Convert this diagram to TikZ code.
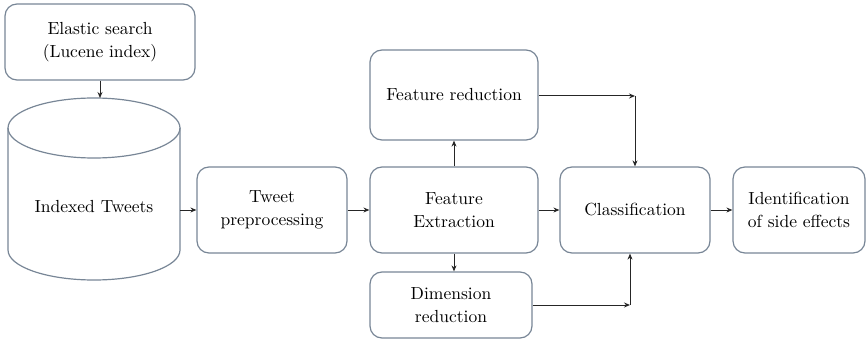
\documentclass[tikz,border=0pt]{standalone}
\usepackage{fontspec}
\setmainfont{lmroman10-regular.otf}
\usetikzlibrary{arrows.meta}
\definecolor{boxline}{RGB}{120,134,150}
\begin{document}
\begin{tikzpicture}[x=1pt,y=-1pt,
  box/.style={draw=boxline, line width=1.2pt, rounded corners=12pt, align=center,
    font=\fontsize{17.5}{23}\selectfont, inner sep=0pt, text=black},
  flow/.style={line width=1pt, draw=black!85, -{Stealth[length=6pt,width=5pt]}}]
\useasboundingbox (0,0) rectangle (867,342);

% source box
\node[box, minimum width=190pt, minimum height=76pt] (elastic) at (100,42)
  {Elastic search\\(Lucene index)};

% database cylinder
\draw[boxline, line width=1.2pt]
  (8,128) arc[start angle=180, end angle=360, x radius=86, y radius=30]
  arc[start angle=0, end angle=180, x radius=86, y radius=30] -- cycle;
\draw[boxline, line width=1.2pt]
  (8,128) -- (8,250) arc[start angle=180, end angle=360, x radius=86, y radius=-30]
  -- (180,128);
\coordinate (cyltop) at (100,98);
\node[font=\fontsize{17.5}{23}\selectfont, text=black, minimum width=172pt,
  minimum height=60pt, inner sep=0pt] (idx) at (94,207) {Indexed Tweets};

% processing chain
\node[box, minimum width=150pt, minimum height=86pt] (tweet) at (272,210)
  {Tweet\\preprocessing};
\node[box, minimum width=168pt, minimum height=86pt] (fe) at (454,210)
  {Feature\\Extraction};
\node[box, minimum width=168pt, minimum height=90pt] (fr) at (454,95)
  {Feature reduction};
\node[box, minimum width=162pt, minimum height=66pt] (dr) at (451,305)
  {Dimension\\reduction};
\node[box, minimum width=150pt, minimum height=86pt] (cls) at (635,210)
  {Classification};
\node[box, minimum width=132pt, minimum height=86pt] (ident) at (799,210)
  {Identification\\of side effects};

\coordinate (frj) at (635,96);
\coordinate (drj) at (630,305);

% connectors
\draw[flow] (elastic.south) -- (elastic.south |- cyltop);
\draw[flow] (idx.east |- tweet.west) -- (tweet.west);
\draw[flow] (tweet) -- (fe);
\draw[flow] (fe.north) -- (fr.south);
\draw[flow] (fe.south) -- (fe.south |- dr.north);
\draw[flow] (fe) -- (cls);
\draw[flow] (cls) -- (ident);
\draw[flow] (fr.east |- frj) -- (frj);
\draw[flow] (frj) -- (cls.north);
\draw[flow] (dr.east |- drj) -- (drj);
\draw[flow] (drj) -- (drj |- cls.south);
\end{tikzpicture}
\end{document}
